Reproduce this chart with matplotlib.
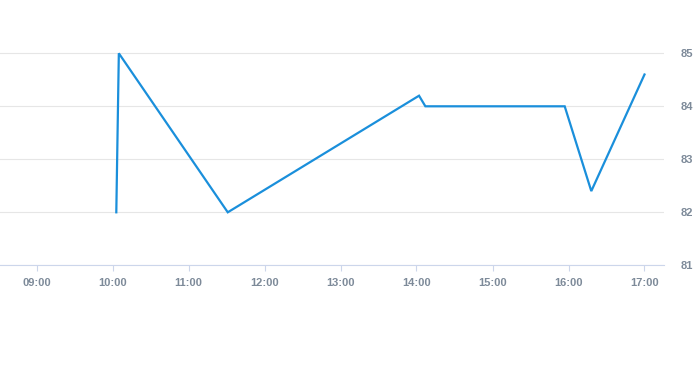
import matplotlib
matplotlib.use("Agg")
import matplotlib.pyplot as plt
import pandas as pd

times = ["10:03", "10:05", "11:31", "14:02", "14:07", "15:57", "16:18", "17:00"]
values = [82.0, 85.0, 82.0, 84.2, 84.0, 84.0, 82.4, 84.6]
y_ticks = [81, 82, 83, 84, 85]
x_ticks = ["09:00", "10:00", "11:00", "12:00", "13:00", "14:00", "15:00", "16:00", "17:00"]

day = "2024-01-01 "
t = pd.to_datetime([day + s for s in times])
xt = pd.to_datetime([day + s for s in x_ticks])

W, H = 693, 365
fig = plt.figure(figsize=(W / 100, H / 100), dpi=100)
left_px, right_px = 0, 663.7
bottom_px = 265.3
top_px = 265.3 - 4.5 * 53
ax = fig.add_axes([left_px / W, (H - bottom_px) / H, (right_px - left_px) / W, (bottom_px - top_px) / H])

px_per_hour = 76.0
x0 = pd.Timestamp(day + "09:00") - pd.Timedelta(hours=36.5 / px_per_hour)
x1 = pd.Timestamp(day + "09:00") + pd.Timedelta(hours=(right_px - 36.5) / px_per_hour)
ax.set_xlim(x0, x1)
ax.set_ylim(81, 85.5)

ax.plot(t, values, color="#1a8fdb", lw=1.6, solid_joinstyle="miter", clip_on=False, zorder=3)

ax.set_yticks(y_ticks)
ax.set_yticklabels([str(v) for v in y_ticks])
ax.yaxis.tick_right()
ax.set_xticks(xt)
ax.set_xticklabels(x_ticks)

label_color = "#7d8a99"
for lab in ax.get_xticklabels() + ax.get_yticklabels():
    lab.set_fontfamily("Liberation Sans")
    lab.set_fontweight("bold")
    lab.set_fontsize(8)
    lab.set_color(label_color)

ax.grid(axis="y", color="#e6e6e6", lw=0.8)
ax.grid(axis="x", visible=False)
ax.tick_params(axis="y", length=0, pad=12.5)
ax.tick_params(axis="x", length=4, width=0.8, color="#ccd6eb", pad=5)
for s in ["top", "left", "right"]:
    ax.spines[s].set_visible(False)
ax.spines["bottom"].set_color("#ccd6eb")
ax.spines["bottom"].set_linewidth(0.8)
ax.set_axisbelow(True)

fig.savefig("out.png", dpi=100)
